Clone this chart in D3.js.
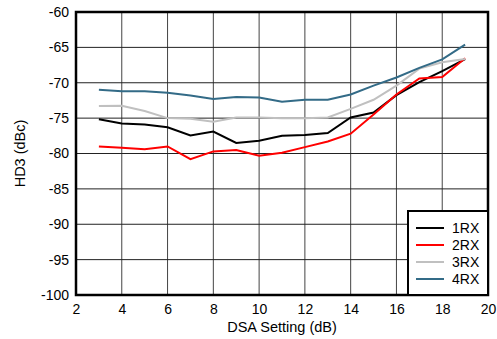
<!DOCTYPE html>
<html><head><meta charset="utf-8">
<script src="https://cdn.jsdelivr.net/npm/d3@7"></script>
<style>body{margin:0;background:#fff}text{font-family:"Liberation Sans",Arial,sans-serif}</style>
</head><body><svg id="c" width="497" height="339"></svg>
<script>
const dsa = [3,4,5,6,7,8,9,10,11,12,13,14,15,16,17,18,19];
const rx1 = [-75.15,-75.75,-75.9,-76.3,-77.45,-76.9,-78.5,-78.2,-77.5,-77.4,-77.1,-74.9,-74.2,-71.75,-69.9,-68.35,-66.65];
const rx2 = [-79.0,-79.2,-79.4,-79.0,-80.8,-79.7,-79.5,-80.3,-79.9,-79.1,-78.3,-77.2,-74.5,-71.65,-69.4,-69.2,-66.55];
const rx3 = [-73.3,-73.25,-74.0,-75.0,-75.1,-75.5,-74.9,-74.9,-75.0,-75.0,-74.9,-73.7,-72.4,-70.4,-68.0,-67.1,-66.65];
const rx4 = [-71.0,-71.2,-71.2,-71.4,-71.8,-72.3,-72.0,-72.1,-72.7,-72.4,-72.4,-71.65,-70.4,-69.25,-67.9,-66.7,-64.6];
const seriesNames = ["1RX","2RX","3RX","4RX"];
const seriesColors = ["#000000","#ff0000","#c0c0c0","#336b87"];
const xTicks = [2,4,6,8,10,12,14,16,18,20];
const yTicks = [-60,-65,-70,-75,-80,-85,-90,-95,-100];

const svg = d3.select("#c");
const L=76,R=488,T=12,B=295;
const x = d3.scaleLinear().domain([2,20]).range([L,R]);
const y = d3.scaleLinear().domain([-100,-60]).range([B,T]);

// grid
svg.append("g").selectAll("line").data(xTicks.slice(1,-1)).join("line")
  .attr("x1",d=>x(d)).attr("x2",d=>x(d)).attr("y1",T).attr("y2",B)
  .attr("stroke","#444").attr("stroke-width",1);
svg.append("g").selectAll("line").data(yTicks.slice(1,-1)).join("line")
  .attr("y1",d=>y(d)).attr("y2",d=>y(d)).attr("x1",L).attr("x2",R)
  .attr("stroke","#222").attr("stroke-width",1);

// axes
const fmt = d => String(d);
const xa = svg.append("g").attr("transform",`translate(0,${B})`)
  .call(d3.axisBottom(x).tickValues(xTicks).tickFormat(fmt).tickSize(0).tickPadding(9));
const ya = svg.append("g").attr("transform",`translate(${L},0)`)
  .call(d3.axisLeft(y).tickValues(yTicks).tickFormat(fmt).tickSize(0).tickPadding(7));
[xa,ya].forEach(a=>{a.select(".domain").remove();a.selectAll("text").attr("font-size",14).attr("fill","#000").style("font-family","Liberation Sans, Arial, sans-serif");});

// lines
const data = [rx1,rx2,rx3,rx4];
const line = d3.line().x((d,i)=>x(dsa[i])).y(d=>y(d));
svg.append("g").selectAll("path").data(data).join("path")
  .attr("d",line).attr("fill","none")
  .attr("stroke",(d,i)=>seriesColors[i]).attr("stroke-width",2);

// frame
svg.append("rect").attr("x",L).attr("y",T).attr("width",R-L).attr("height",B-T)
  .attr("fill","none").attr("stroke","#000").attr("stroke-width",2.5);

// legend
const lg = svg.append("g");
lg.append("rect").attr("x",408).attr("y",211).attr("width",R-408).attr("height",B-211)
  .attr("fill","#fff").attr("stroke","#000").attr("stroke-width",2);
seriesNames.forEach((n,i)=>{
  const yy = 228 + i*17;
  lg.append("line").attr("x1",416).attr("x2",444).attr("y1",yy).attr("y2",yy)
    .attr("stroke",seriesColors[i]).attr("stroke-width",2);
  lg.append("text").attr("x",452).attr("y",yy+5).attr("font-size",14).text(n);
});

// axis titles
svg.append("text").attr("x",(L+R)/2).attr("y",332).attr("text-anchor","middle")
  .attr("font-size",14.5).text("DSA Setting (dB)");
svg.append("text").attr("transform",`translate(25,${(T+B)/2}) rotate(-90)`)
  .attr("text-anchor","middle").attr("font-size",14.5).text("HD3 (dBc)");
</script></body></html>
